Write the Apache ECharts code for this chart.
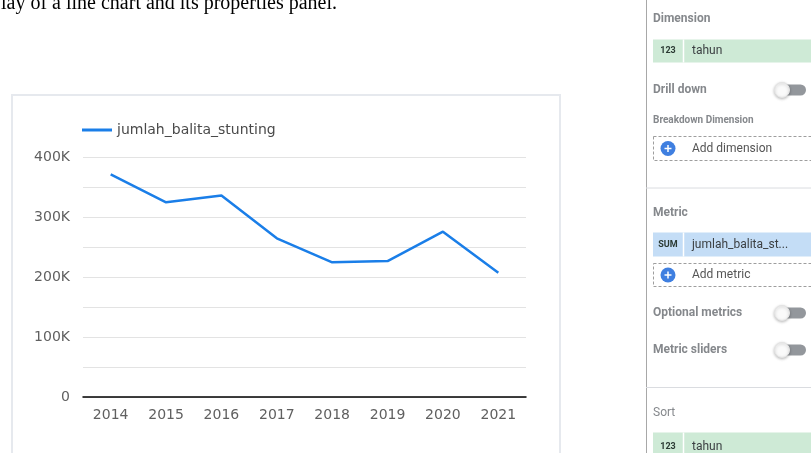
<!DOCTYPE html>
<html>
<head>
<meta charset="utf-8">
<script src="https://cdn.jsdelivr.net/npm/echarts@6/dist/echarts.min.js"></script>
<style>
html,body{margin:0;padding:0;background:#fff;}
#c{width:811px;height:453px;}
</style>
</head>
<body>
<div id="c"></div>
<script>
var years = ['2014','2015','2016','2017','2018','2019','2020','2021'];
var stunting = [371000, 324500, 336000, 264500, 224500, 226500, 275500, 207000];
var seriesName = 'jumlah_balita_stunting';
var captionText = 'lay of a line chart and its properties panel.';

var chart = echarts.init(document.getElementById('c'), null, {renderer:'canvas'});

var labelFont = 'DejaVu Sans';
var panelFont = 'Roboto';
var headColor = '#85888c';

function toggle(cy){
  return [
    {type:'rect', shape:{x:777, y:cy-5.5, width:29, height:11, r:5.5}, style:{fill:'#93979c'}},
    {type:'circle', shape:{cx:782, cy:cy, r:7.5}, style:{fill:'#fafafa', stroke:'#e4e4e4', lineWidth:1, shadowBlur:3, shadowColor:'rgba(0,0,0,0.25)', shadowOffsetY:1}}
  ];
}
function plus(cx, cy){
  return [
    {type:'circle', shape:{cx:cx, cy:cy, r:7.5}, style:{fill:'#3f7fe0'}},
    {type:'rect', shape:{x:cx-3.5, y:cy-0.75, width:7, height:1.5}, style:{fill:'#fff'}},
    {type:'rect', shape:{x:cx-0.75, y:cy-3.5, width:1.5, height:7}, style:{fill:'#fff'}}
  ];
}
function head(txt, y, size, weight){
  return {type:'text', x:653, y:y, style:{text:txt, font:(weight||'bold')+' '+(size||12)+'px '+panelFont, fill:headColor, verticalAlign:'middle'}};
}
function chip(y, h, fill, tag, label){
  return [
    {type:'rect', shape:{x:653, y:y, width:170, height:h}, style:{fill:fill}},
    {type:'line', shape:{x1:683.5, y1:y, x2:683.5, y2:y+h}, style:{stroke:'#ffffff', lineWidth:1.5}},
    {type:'text', x:668, y:y+h/2, style:{text:tag, font:'bold 9px '+panelFont, fill:'#2b3a33', align:'center', verticalAlign:'middle'}},
    {type:'text', x:692, y:y+h/2, style:{text:label, font:'12px '+panelFont, fill:'#3c4043', verticalAlign:'middle'}}
  ];
}
function dashed(y, h, label){
  return [
    {type:'rect', shape:{x:653.5, y:y, width:170, height:h}, style:{fill:'none', stroke:'#9e9e9e', lineWidth:1, lineDash:[3,2]}}
  ].concat(plus(668, y+h/2)).concat([
    {type:'text', x:692, y:y+h/2, style:{text:label, font:'12px '+panelFont, fill:'#555', verticalAlign:'middle'}}
  ]);
}

var g = [];
g.push({type:'text', x:1, y:14, style:{text:captionText, font:'20px "Liberation Serif"', fill:'#000', verticalAlign:'bottom'}});
g.push({type:'rect', shape:{x:12, y:95, width:548, height:400}, style:{fill:'none', stroke:'#e6e9ee', lineWidth:2}});
g.push({type:'line', shape:{x1:646.5, y1:0, x2:646.5, y2:453}, style:{stroke:'#a8a8a8', lineWidth:1}});
g.push(head('Dimension', 19));
g = g.concat(chip(39.5, 23, '#ceead6', '123', 'tahun'));
g.push(head('Drill down', 90));
g = g.concat(toggle(90));
g.push(head('Breakdown Dimension', 120, 10));
g = g.concat(dashed(136.5, 24, 'Add dimension'));
g.push({type:'line', shape:{x1:646, y1:188, x2:811, y2:188}, style:{stroke:'#dadce0', lineWidth:1}});
g.push(head('Metric', 213));
g = g.concat(chip(232.5, 24, '#c4ddf6', 'SUM', 'jumlah_balita_st...'));
g = g.concat(dashed(263.5, 23, 'Add metric'));
g.push(head('Optional metrics', 313));
g = g.concat(toggle(313));
g.push(head('Metric sliders', 350));
g = g.concat(toggle(350));
g.push({type:'line', shape:{x1:646, y1:387.5, x2:811, y2:387.5}, style:{stroke:'#dadce0', lineWidth:1}});
g.push(head('Sort', 413, 12, 'normal'));
g = g.concat(chip(432.5, 28, '#ceead6', '123', 'tahun'));

var option = {
  animation:false,
  backgroundColor:'#ffffff',
  legend:{
    left:82, top:123, padding:0, itemWidth:30, itemHeight:3, itemGap:10,
    icon:'rect',
    textStyle:{fontFamily:labelFont, fontSize:14, color:'#4a4a4a'},
    data:[seriesName]
  },
  grid:{left:83, right:285, top:157, bottom:56, containLabel:false},
  xAxis:{
    type:'category', data:years, boundaryGap:true,
    axisLine:{show:true, lineStyle:{color:'#000', width:1.5}},
    axisTick:{show:false},
    axisLabel:{fontFamily:labelFont, fontSize:14, color:'#606060', margin:11},
    splitLine:{show:false}
  },
  yAxis:{
    type:'value', min:0, max:400000, interval:50000,
    axisLine:{show:false}, axisTick:{show:false},
    axisLabel:{fontFamily:labelFont, fontSize:14, color:'#606060', margin:13,
      formatter:function(v){ if(v % 100000 !== 0) return ''; return v===0 ? '0' : (v/1000)+'K'; }},
    splitLine:{show:true, lineStyle:{color:'#e3e3e3', width:1}}
  },
  series:[{
    name:seriesName, type:'line', data:stunting,
    showSymbol:false, symbol:'none',
    lineStyle:{color:'#1a7ee8', width:2.5},
    itemStyle:{color:'#1a7ee8'}
  }],
  graphic:g
};
chart.setOption(option);
</script>
</body>
</html>
